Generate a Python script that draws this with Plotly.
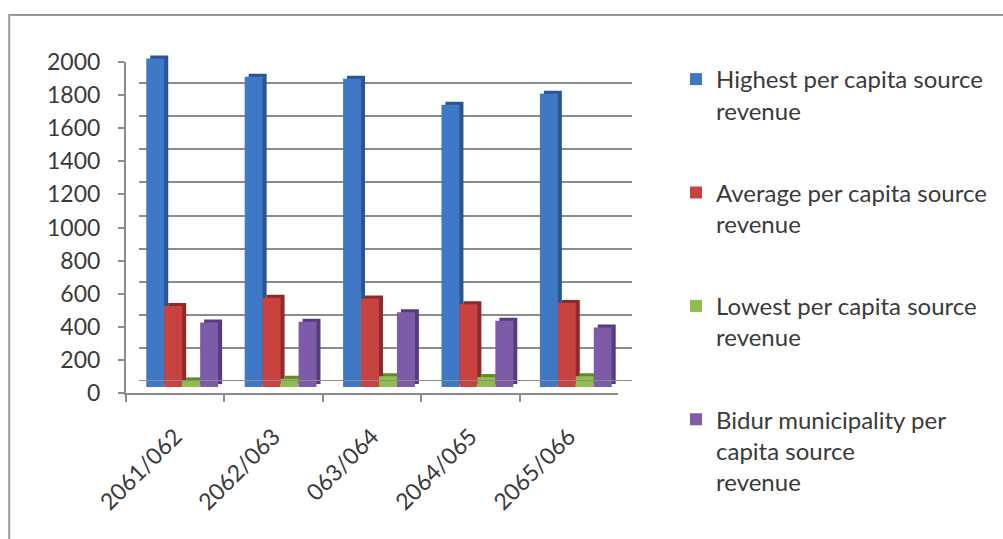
import plotly.graph_objects as go

# ---------------- data ----------------
categories = ["2061/062", "2062/063", "063/064", "2064/065", "2065/066"]
highest = [1985, 1875, 1862, 1705, 1772]
average = [490, 540, 535, 500, 508]
lowest = [40, 50, 65, 60, 65]
bidur = [390, 395, 452, 400, 360]

series_names = [
    "Highest per capita source<br>revenue",
    "Average per capita source<br>revenue",
    "Lowest per capita source<br>revenue",
    "Bidur municipality per<br>capita source<br>revenue",
]
series_values = [highest, average, lowest, bidur]
face_colors = ["#3F78C4", "#C8423F", "#8DBE4A", "#7D5BA8"]
side_colors = ["#2A5590", "#8C2B29", "#5F8A2C", "#553D7C"]

y_ticks = [0, 200, 400, 600, 800, 1000, 1200, 1400, 1600, 1800, 2000]

# ---------------- geometry (pixels in a 1003x539 page) ----------------
W, H = 1003, 539
L, R, T, B = 126, 633, 50, 393          # plot area box
pw, ph = R - L, B - T


def fx(x):
    return (x - L) / pw


def fy(y):
    return (B - y) / ph


FONT = "Lato, 'Open Sans', sans-serif"
TXT = "#3a3a3a"

fig = go.Figure()

# depth (side/top faces) bars on subplot 2, front faces on subplot 3
for name, vals, sc in zip(series_names, series_values, side_colors):
    fig.add_trace(go.Bar(x=categories, y=vals, name=name, marker_color=sc,
                         marker_line_width=0, showlegend=False,
                         xaxis="x2", yaxis="y2", hoverinfo="skip"))
for i, (name, vals, fc) in enumerate(zip(series_names, series_values, face_colors)):
    fig.add_trace(go.Bar(x=categories, y=vals, name=name, marker_color=fc,
                         marker_line_width=0, legendgroup=f"g{i}",
                         xaxis="x3", yaxis="y3"))

# invisible trace to anchor the front axes (subplot 4)
fig.add_trace(go.Scatter(x=categories, y=[None] * len(categories), mode="lines",
                         showlegend=False, xaxis="x4", yaxis="y4", hoverinfo="skip"))

grid_col = "#8c8c8c"
hidden = dict(showgrid=False, zeroline=False, showticklabels=False, ticks="", showline=False)

fig.update_layout(
    width=W, height=H,
    margin=dict(l=L, r=W - R, t=T, b=H - B, pad=0),
    paper_bgcolor="white", plot_bgcolor="rgba(0,0,0,0)",
    barmode="group", bargap=0.27, bargroupgap=0,
    font=dict(family=FONT, size=23, color=TXT),
    # back wall (gridlines)
    xaxis=dict(domain=[fx(139), 1.0], range=[0, 1], anchor="y", showgrid=False,
               zeroline=False, showticklabels=False, ticks="", showline=False),
    yaxis=dict(domain=[fy(381), 1.0], range=[0, 2000], anchor="x", tickvals=y_ticks,
               showgrid=True, gridcolor=grid_col, gridwidth=2, zeroline=False,
               showticklabels=False, ticks="", showline=False),
    # depth bars
    xaxis2=dict(domain=[fx(137), fx(630)], range=[-0.5, 4.5], anchor="y2",
                type="category", **hidden),
    yaxis2=dict(domain=[fy(384), fy(53)], range=[0, 2000], anchor="x2", **hidden),
    # front-face bars
    xaxis3=dict(domain=[fx(133), fx(626)], range=[-0.5, 4.5], anchor="y3",
                type="category", **hidden),
    yaxis3=dict(domain=[fy(387), fy(56)], range=[0, 2000], anchor="x3", **hidden),
    # front axes with labels
    xaxis4=dict(domain=[0, fx(619)], range=[-0.5, 4.5], anchor="y4", type="category",
                showgrid=False, zeroline=False, showline=True, linecolor=grid_col,
                linewidth=2, ticks="outside", ticklen=7, tickwidth=2, tickcolor=grid_col,
                tickson="boundaries", tickangle=-45, ticklabelstandoff=19,
                tickfont=dict(family=FONT, size=23, color=TXT)),
    yaxis4=dict(domain=[0, fy(62)], range=[0, 2000], anchor="x4", tickvals=y_ticks,
                showgrid=False, zeroline=False, showline=True, linecolor=grid_col,
                linewidth=2, ticks="outside", ticklen=6, tickwidth=2, tickcolor=grid_col,
                ticklabelstandoff=13, tickfont=dict(family=FONT, size=23, color=TXT)),
    legend=dict(x=fx(676), y=fy(57), xanchor="left", yanchor="top",
                font=dict(family=FONT, size=24, color=TXT), valign="top",
                tracegroupgap=48, itemwidth=30, bgcolor="rgba(0,0,0,0)",
                traceorder="grouped", maxheight=530),
    showlegend=True,
)

# back-edge of the floor
fig.add_shape(type="line", xref="x domain", yref="y", x0=0, x1=1, y0=0, y1=0,
              line=dict(color=grid_col, width=2))

# chart frame
fig.add_shape(type="rect", xref="paper", yref="paper",
              x0=fx(9), x1=fx(1030), y0=fy(620), y1=fy(15),
              line=dict(color="#9a9a9a", width=2), fillcolor="rgba(0,0,0,0)", layer="below")

fig.write_html("out.html")
